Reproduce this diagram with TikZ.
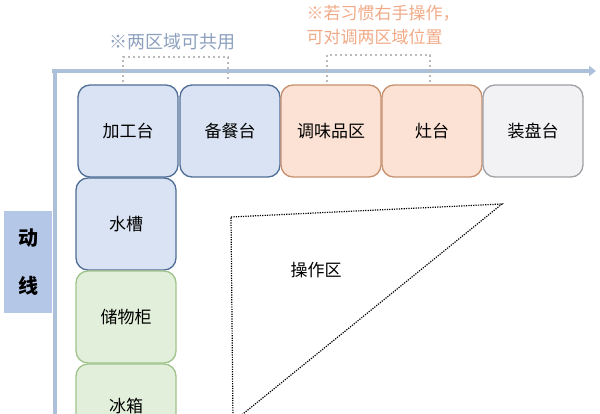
\documentclass[tikz,border=0pt]{standalone}
\usepackage{fontspec}
\setmainfont{Noto Sans CJK SC}
\usetikzlibrary{arrows.meta}
\definecolor{axisc}{RGB}{172,192,218}
\definecolor{bfill}{RGB}{218,227,243}
\definecolor{bdraw}{RGB}{80,110,150}
\definecolor{ofill}{RGB}{251,226,212}
\definecolor{odraw}{RGB}{200,145,110}
\definecolor{gfill}{RGB}{242,242,244}
\definecolor{gdraw}{RGB}{160,160,165}
\definecolor{grfill}{RGB}{226,239,218}
\definecolor{grdraw}{RGB}{160,195,140}
\definecolor{labfill}{RGB}{180,199,231}
\definecolor{notebl}{RGB}{140,160,190}
\definecolor{noteor}{RGB}{240,170,135}
\definecolor{brk}{RGB}{185,185,190}
\tikzset{
  zone/.style={draw, line width=1.3pt, rounded corners=12pt, minimum width=100pt, minimum height=92pt, inner sep=0pt, font=\fontsize{17}{17}\selectfont, text=black},
  bluez/.style={zone, fill=bfill, draw=bdraw},
  orangez/.style={zone, fill=ofill, draw=odraw},
  grayz/.style={zone, fill=gfill, draw=gdraw},
  greenz/.style={zone, fill=grfill, draw=grdraw},
  bracket/.style={draw=brk, line width=1.8pt, dash pattern=on 1.8pt off 3.2pt},
}
\begin{document}
\begin{tikzpicture}[x=1pt,y=-1pt]
\useasboundingbox (0,0) rectangle (600,414);
\begin{scope}
\clip (0,0) rectangle (600,414);
% axes
\coordinate (hs) at (52,71);
\coordinate (he) at (596,71);
\coordinate (vs) at (55,69);
\coordinate (ve) at (55,420);
\draw[axisc, line width=4pt, -{Triangle[length=7pt,width=10pt]}] (hs) -- (he);
\draw[axisc, line width=4pt] (vs) -- (ve);
% label
\node[fill=labfill, minimum width=48pt, minimum height=102pt, inner sep=0pt, align=center, font=\fontsize{20}{48}\selectfont\bfseries] (dx) at (28,262) {动\\线};
% boxes
\node[bluez] (jg) at (128,131) {加工台};
\node[bluez] (bc) at (230,131) {备餐台};
\node[orangez] (tw) at (331,131) {调味品区};
\node[orangez] (zt) at (432,131) {灶台};
\node[grayz] (zp) at (533,131) {装盘台};
\node[bluez] (sc) at (126,224) {水槽};
\node[greenz] (cw) at (126,317) {储物柜};
\node[greenz, text depth=10pt] (bx) at (126,410) {冰箱};
% triangle
\coordinate (t1) at (231,217);
\coordinate (t2) at (502,204);
\coordinate (t3) at (233,422);
\draw[black, line width=1.2pt, dash pattern=on 1.2pt off 1.2pt] (t1) -- (t2) -- (t3) -- cycle;
\node[font=\fontsize{17}{17}\selectfont] (cz) at (316,270) {操作区};
% notes
\node[text=notebl, font=\fontsize{18}{18}\selectfont] (n1) at (172,42) {※两区域可共用};
\node[text=noteor, font=\fontsize{17}{24}\selectfont, align=left, anchor=north west] (n2) at (303,2) {※若习惯右手操作，\\可对调两区域位置};
% brackets
\coordinate (b1a) at (123,82);
\coordinate (b1b) at (123,57);
\coordinate (b1c) at (228,57);
\coordinate (b1d) at (228,82);
\draw[bracket] (b1a) -- (b1b) -- (b1c) -- (b1d);
\coordinate (b2a) at (327,82);
\coordinate (b2b) at (327,55);
\coordinate (b2c) at (430,55);
\coordinate (b2d) at (430,82);
\draw[bracket] (b2a) -- (b2b) -- (b2c) -- (b2d);
\end{scope}
\end{tikzpicture}
\end{document}
